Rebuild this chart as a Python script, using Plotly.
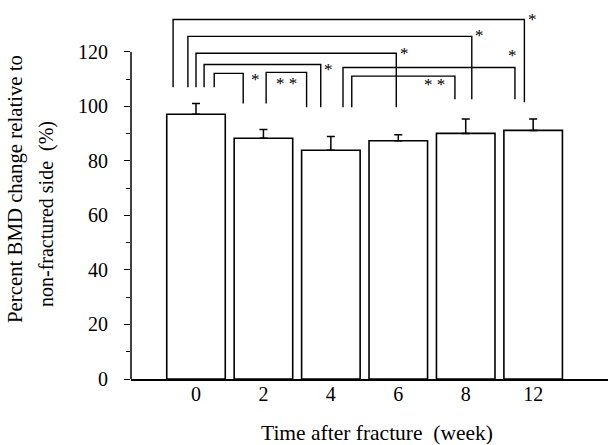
import plotly.graph_objects as go

# ---------------- data ----------------
weeks = ["0", "2", "4", "6", "8", "12"]
bmd_mean = [97.1, 88.3, 83.9, 87.4, 90.1, 91.2]
bmd_err = [4.0, 3.2, 5.1, 2.2, 5.3, 4.2]

y_ticks = [0, 20, 40, 60, 80, 100, 120]
y_minor = [10, 30, 50, 70, 90, 110]

# significance brackets: (from bar, to bar)
br_pairs = [(0, 5), (0, 4), (0, 3), (0, 2), (0, 1), (1, 2), (2, 5), (2, 4)]
br_top = [131.9, 125.7, 119.5, 115.4, 112.1, 112.5, 114.3, 111.1]
br_left_end = [107.0, 107.0, 107.0, 107.0, 107.0, 101.1, 99.7, 99.7]
br_right_end = [101.5, 102.6, 99.7, 99.7, 101.1, 99.7, 102.6, 102.6]
br_labels = ["*", "*", "*", "*", "*", "* *", "*", "* *"]
br_label_y = [131.8, 126.1, 119.3, 113.6, 110.0, 108.3, 118.5, 108.0]

# ---------------- style / layout numbers ----------------
W, H = 609, 445
ML, MR, MT, MB = 131, 1, 11, 66
FONT = "Liberation Serif"
br_left_off = [-0.34, -0.12, 0.0, 0.12, 0.27, 0.04, 0.18, 0.31]
br_right_off = [-0.13, 0.09, -0.03, -0.15, -0.30, -0.36, -0.27, -0.16]
lab_x_off = [-0.01, 0.21, 0.09, -0.03, -0.12, -0.66, -0.31, -0.47]

xpos = list(range(len(weeks)))

fig = go.Figure()
fig.add_trace(go.Bar(
    x=xpos, y=bmd_mean, width=0.868,
    marker=dict(color="white", line=dict(color="black", width=1.6)),
    error_y=dict(type="data", symmetric=False, array=bmd_err,
                 arrayminus=[0] * len(bmd_err), color="black",
                 thickness=1.5, width=4),
    showlegend=False, hoverinfo="skip",
))

for k, (i, j) in enumerate(br_pairs):
    xl = xpos[i] + br_left_off[k]
    xr = xpos[j] + br_right_off[k]
    fig.add_trace(go.Scatter(
        x=[xl, xl, xr, xr],
        y=[br_left_end[k], br_top[k], br_top[k], br_right_end[k]],
        mode="lines", line=dict(color="black", width=1.4),
        showlegend=False, hoverinfo="skip", cliponaxis=False,
    ))
    fig.add_annotation(x=xpos[j] + lab_x_off[k], y=br_label_y[k],
                       xref="x", yref="y",
                       text=br_labels[k], showarrow=False,
                       font=dict(family=FONT, size=17, color="black"),
                       xanchor="center", yanchor="middle")

pw = W - ML - MR
ph = H - MT - MB


def px(sx):
    return (sx - ML) / pw


def py(sy):
    return (H - MB - sy) / ph


# y axis line only up to 120
fig.add_shape(type="line", xref="paper", yref="y", x0=0, x1=0,
              y0=0, y1=y_ticks[-1], line=dict(color="black", width=1.5))

# axis titles
fig.add_annotation(x=px(15), y=py(189), xref="paper", yref="paper",
                   text="Percent BMD change relative to", textangle=-90,
                   showarrow=False, font=dict(family=FONT, size=20.8, color="black"),
                   xanchor="center", yanchor="middle", borderpad=0)
fig.add_annotation(x=px(47), y=py(214), xref="paper", yref="paper",
                   text="non-fractured side  (%)", textangle=-90,
                   showarrow=False, font=dict(family=FONT, size=20, color="black"),
                   xanchor="center", yanchor="middle", borderpad=0)
fig.add_annotation(x=px(377), y=py(433), xref="paper", yref="paper",
                   text="Time after fracture  (week)",
                   showarrow=False, font=dict(family=FONT, size=21.5, color="black"),
                   xanchor="center", yanchor="middle", borderpad=0)

fig.update_layout(
    width=W, height=H, autosize=False,
    margin=dict(l=ML, r=MR, t=MT, b=MB, pad=0),
    paper_bgcolor="white", plot_bgcolor="white",
    font=dict(family=FONT, size=20, color="black"),
    xaxis=dict(range=[-0.964, 6.11], tickvals=xpos, ticktext=weeks,
               showline=True, linecolor="black", linewidth=1.5,
               ticks="", showgrid=False, zeroline=False,
               ticklabelstandoff=-4,
               tickfont=dict(family=FONT, size=20, color="black")),
    yaxis=dict(range=[0, 135], tickvals=y_ticks, showline=False,
               ticks="outside", ticklen=6, tickwidth=1.3, tickcolor="black",
               minor=dict(tickvals=y_minor, ticks="outside", ticklen=4,
                          tickwidth=1.2, tickcolor="black"),
               showgrid=False, zeroline=False, ticklabelstandoff=12,
               tickfont=dict(family=FONT, size=20, color="black")),
)

fig.write_html("out.html", config={"displayModeBar": False},
               post_script="document.body.style.margin='0px';")
